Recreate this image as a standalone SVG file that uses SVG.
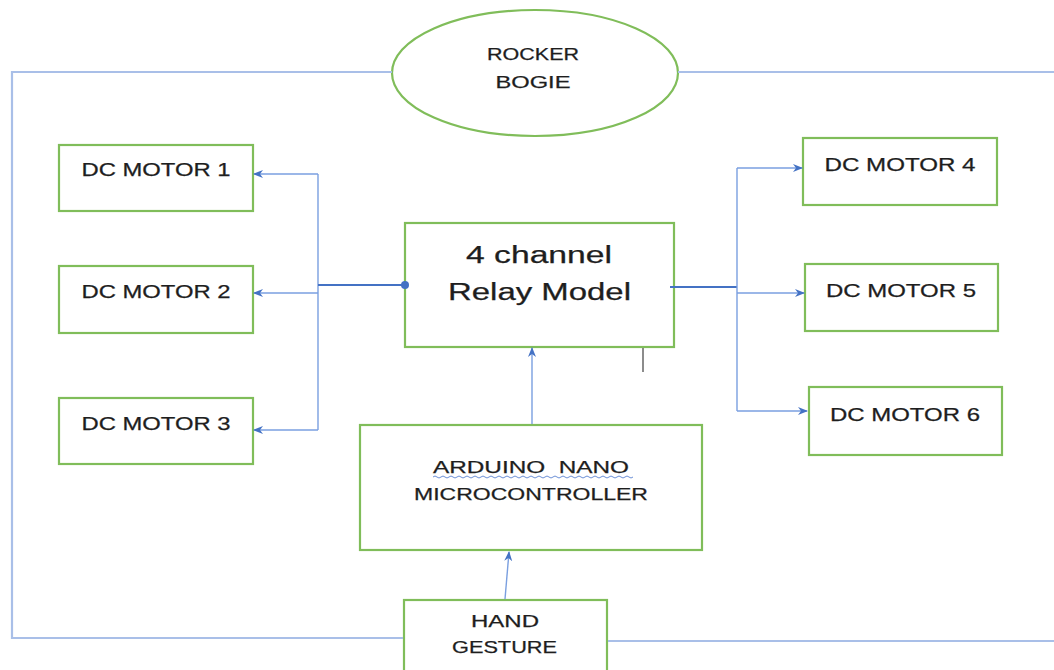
<svg xmlns="http://www.w3.org/2000/svg" width="1054" height="670" viewBox="0 0 1054 670">
<defs>
<marker id="arr" viewBox="0 0 10 10" refX="9" refY="5" markerWidth="10" markerHeight="10" markerUnits="userSpaceOnUse" orient="auto">
<path d="M0,1 L10,5 L0,9 L3,5 Z" fill="#4472c4"/>
</marker>
<style>
.box{fill:#fff;stroke:#80bd5a;stroke-width:2.2}
.t{font-family:"Liberation Sans",Arial,sans-serif;fill:#1e1e1e;text-anchor:middle;stroke:#1e1e1e;stroke-width:0.25}
.m{font-size:18px}
.s{font-size:17px}
.b{font-size:23px}
.ln{fill:none;stroke:#7a9fe0;stroke-width:1.4}
.thick{fill:none;stroke:#4472c4;stroke-width:2.2}
.outer{fill:none;stroke:#a9bfe8;stroke-width:2.2}
</style>
</defs>
<rect width="1054" height="670" fill="#fff"/>
<g id="rocker">
<ellipse cx="535" cy="73" rx="143" ry="63" fill="#fff" stroke="#80bd5a" stroke-width="2.2"/>
<text class="t s" x="533" y="60" textLength="92" lengthAdjust="spacingAndGlyphs">ROCKER</text>
<text class="t s" x="533" y="88" textLength="75" lengthAdjust="spacingAndGlyphs">BOGIE</text>
</g>
<g id="motor1">
<rect class="box" x="59" y="145" width="194" height="66"/>
<text class="t m" x="156" y="176" textLength="149" lengthAdjust="spacingAndGlyphs">DC MOTOR 1</text>
</g>
<g id="motor2">
<rect class="box" x="59" y="266" width="194" height="67"/>
<text class="t m" x="156" y="298" textLength="149" lengthAdjust="spacingAndGlyphs">DC MOTOR 2</text>
</g>
<g id="motor3">
<rect class="box" x="59" y="398" width="194" height="66"/>
<text class="t m" x="156" y="430" textLength="149" lengthAdjust="spacingAndGlyphs">DC MOTOR 3</text>
</g>
<g id="motor4">
<rect class="box" x="803" y="138" width="194" height="67"/>
<text class="t m" x="900" y="171" textLength="151" lengthAdjust="spacingAndGlyphs">DC MOTOR 4</text>
</g>
<g id="motor5">
<rect class="box" x="805" y="264" width="193" height="67"/>
<text class="t m" x="901" y="297" textLength="150" lengthAdjust="spacingAndGlyphs">DC MOTOR 5</text>
</g>
<g id="motor6">
<rect class="box" x="809" y="387" width="193" height="68"/>
<text class="t m" x="905" y="421" textLength="150" lengthAdjust="spacingAndGlyphs">DC MOTOR 6</text>
</g>
<g id="relay">
<rect class="box" x="405" y="223" width="269" height="124"/>
<text class="t b" x="539" y="263" textLength="146" lengthAdjust="spacingAndGlyphs">4 channel</text>
<text class="t b" x="539.5" y="300" textLength="183" lengthAdjust="spacingAndGlyphs">Relay Model</text>
</g>
<g id="arduino">
<rect class="box" x="360" y="425" width="342" height="125"/>
<text class="t s" x="531" y="473" textLength="196" lengthAdjust="spacingAndGlyphs" xml:space="preserve" style="white-space:pre">ARDUINO  NANO</text>
<path d="M433,477 q2,-2 4,0 t4,0 t4,0 t4,0 t4,0 t4,0 t4,0 t4,0 t4,0 t4,0 t4,0 t4,0 t4,0 t4,0 t4,0 t4,0 t4,0 t4,0 t4,0 t4,0 t4,0 t4,0 t4,0 t4,0 t4,0 t4,0 t4,0 t4,0 t4,0 t4,0 t4,0 t4,0 t4,0 t4,0 t4,0 t4,0 t4,0 t4,0 t4,0 t4,0 t4,0 t4,0 t4,0 t4,0 t4,0 t4,0 t4,0 t4,0 t4,0 t4,0" fill="none" stroke="#6b8fd6" stroke-width="1"/>
<text class="t s" x="531" y="500" textLength="234" lengthAdjust="spacingAndGlyphs">MICROCONTROLLER</text>
</g>
<g id="hand">
<rect class="box" x="404" y="600" width="203" height="80"/>
<text class="t s" x="505" y="627" textLength="68" lengthAdjust="spacingAndGlyphs">HAND</text>
<text class="t s" x="504.5" y="653" textLength="105" lengthAdjust="spacingAndGlyphs">GESTURE</text>
</g>
<g id="connectors">
<polyline class="outer" points="392,72 12,72 12,638 403,638"/>
<line class="outer" x1="678" y1="72" x2="1054" y2="72"/>
<line class="outer" x1="608" y1="641" x2="1054" y2="641"/>
<polyline class="ln" points="318,174 318,430"/>
<line class="ln" x1="318" y1="174" x2="254" y2="174" marker-end="url(#arr)"/>
<line class="ln" x1="318" y1="293" x2="254" y2="293" marker-end="url(#arr)"/>
<line class="ln" x1="318" y1="430" x2="254" y2="430" marker-end="url(#arr)"/>
<line class="thick" x1="318" y1="285" x2="405" y2="285"/>
<circle cx="405" cy="285" r="4" fill="#4472c4"/>
<line class="thick" x1="670" y1="287" x2="737" y2="287"/>
<polyline class="ln" points="737,168 737,411"/>
<line class="ln" x1="737" y1="168" x2="802" y2="168" marker-end="url(#arr)"/>
<line class="ln" x1="737" y1="293" x2="804" y2="293" marker-end="url(#arr)"/>
<line class="ln" x1="737" y1="411" x2="807" y2="411" marker-end="url(#arr)"/>
<line class="ln" x1="532" y1="424" x2="532" y2="348" marker-end="url(#arr)"/>
<line class="ln" x1="505" y1="599" x2="509" y2="552" marker-end="url(#arr)"/>
<line x1="643" y1="348" x2="643" y2="372" stroke="#666" stroke-width="1.5"/>
</g>
</svg>
